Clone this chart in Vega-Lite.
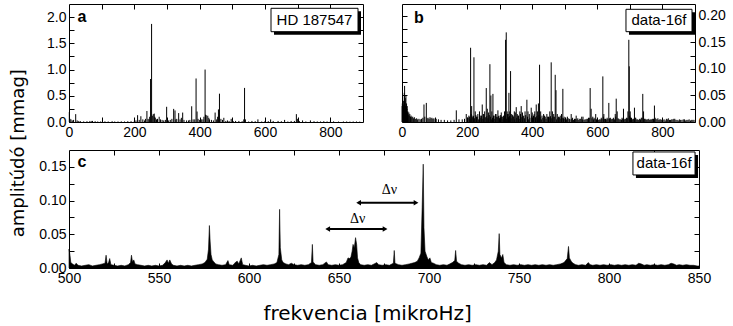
{
"$schema": "https://vega.github.io/schema/vega-lite/v6.json",
"padding": {"left": 9, "top": 3, "right": 2, "bottom": 2},
"background": "white",
"config": {
 "view": {"stroke": "black", "strokeWidth": 1},
 "axis": {"domain": false, "grid": false, "ticks": true, "tickSize": -5, "tickColor": "black", "tickWidth": 1, "labelFont": "Liberation Sans", "labelFontSize": 14, "labelColor": "black", "labelPadding": 8, "labelFlush": false, "labelOverlap": false},
 "title": {"color": "black", "font": "DejaVu Sans", "fontSize": 20, "fontWeight": "normal", "anchor": "middle"}
},
"datasets": {
 "a": [
  {"f":1,"a":0.19},{"f":3,"a":0.06},{"f":6,"a":0.05},{"f":10,"a":0.03},{"f":14,"a":0.04},{"f":20.5,"a":0.15},{"f":25,"a":0.03},{"f":35,"a":0.015},{"f":70,"a":0.02},{"f":72,"a":0.02},{"f":97,"a":0.01},{"f":150,"a":0.01},{"f":180,"a":0.015},{"f":210,"a":0.13},{"f":220,"a":0.11},{"f":231,"a":0.03},{"f":238.5,"a":0.21},{"f":245,"a":0.05},{"f":249.7,"a":0.82},{"f":252.8,"a":1.87},{"f":255,"a":0.12},{"f":258,"a":0.15},{"f":261,"a":0.16},{"f":264,"a":0.08},{"f":268,"a":0.05},{"f":276,"a":0.1},{"f":285,"a":0.04},{"f":298.9,"a":0.29},{"f":305,"a":0.03},{"f":320.4,"a":0.25},{"f":324.5,"a":0.22},{"f":330,"a":0.06},{"f":335.7,"a":0.17},{"f":348,"a":0.18},{"f":360,"a":0.03},{"f":375.6,"a":0.3},{"f":385,"a":0.05},{"f":389,"a":0.83},{"f":392,"a":0.2},{"f":400,"a":0.04},{"f":410,"a":0.05},{"f":416.6,"a":1.0},{"f":420,"a":0.13},{"f":424.8,"a":0.12},{"f":430,"a":0.05},{"f":447.3,"a":0.18},{"f":457.5,"a":0.24},{"f":460.6,"a":0.54},{"f":465,"a":0.06},{"f":474,"a":0.08},{"f":485,"a":0.03},{"f":496.4,"a":0.06},{"f":510,"a":0.02},{"f":537.4,"a":0.65},{"f":540,"a":0.05},{"f":560,"a":0.02},{"f":578.3,"a":0.05},{"f":600,"a":0.02},{"f":617.2,"a":0.05},{"f":640,"a":0.02},{"f":660,"a":0.04},{"f":680,"a":0.02},{"f":696,"a":0.15},{"f":699,"a":0.06},{"f":715,"a":0.03},{"f":739,"a":0.03},{"f":760,"a":0.01},{"f":780,"a":0.015},{"f":800,"a":0.01},{"f":840,"a":0.01},{"f":880,"a":0.01},
  {"f":30,"a":0.02},{"f":45,"a":0.012},{"f":55,"a":0.015},{"f":64,"a":0.02},{"f":80,"a":0.015},{"f":88,"a":0.01},{"f":110,"a":0.012},{"f":120,"a":0.01},{"f":132,"a":0.015},{"f":140,"a":0.01},{"f":160,"a":0.012},{"f":170,"a":0.01},{"f":190,"a":0.015},{"f":200,"a":0.02},{"f":205,"a":0.03},{"f":215,"a":0.04},{"f":226,"a":0.05},{"f":234,"a":0.06},{"f":242,"a":0.06},{"f":247,"a":0.1},{"f":262.5,"a":0.1},{"f":271,"a":0.06},{"f":280,"a":0.05},{"f":290,"a":0.03},{"f":295,"a":0.04},{"f":310,"a":0.04},{"f":315,"a":0.06},{"f":327,"a":0.05},{"f":340,"a":0.05},{"f":344,"a":0.08},{"f":352,"a":0.04},{"f":366,"a":0.03},{"f":370,"a":0.04},{"f":380,"a":0.05},{"f":395,"a":0.06},{"f":405,"a":0.05},{"f":413,"a":0.1},{"f":418,"a":0.14},{"f":428,"a":0.08},{"f":436,"a":0.04},{"f":442,"a":0.03},{"f":452,"a":0.05},{"f":455,"a":0.1},{"f":470,"a":0.04},{"f":480,"a":0.02},{"f":490,"a":0.02},{"f":503,"a":0.015},{"f":520,"a":0.02},{"f":530,"a":0.015},{"f":535,"a":0.05},{"f":550,"a":0.01},{"f":570,"a":0.015},{"f":590,"a":0.01},{"f":610,"a":0.015},{"f":625,"a":0.02},{"f":650,"a":0.015},{"f":670,"a":0.01},{"f":690,"a":0.02},{"f":705,"a":0.02},{"f":725,"a":0.01},{"f":750,"a":0.015},{"f":770,"a":0.01},{"f":790,"a":0.01},{"f":810,"a":0.012},{"f":825,"a":0.008},{"f":850,"a":0.01},{"f":860,"a":0.008},{"f":870,"a":0.01},{"f":890,"a":0.008}
 ],
 "b": [
  {"f":0.5,"a":0.03},{"f":1,"a":0.035},{"f":1.5,"a":0.025},{"f":2.5,"a":0.032},{"f":3,"a":0.03},{"f":4,"a":0.028},{"f":5,"a":0.04},{"f":6,"a":0.033},{"f":7,"a":0.055},{"f":8,"a":0.068},{"f":9,"a":0.04},{"f":10,"a":0.045},{"f":11,"a":0.03},{"f":12,"a":0.05},{"f":13,"a":0.028},{"f":14,"a":0.035},{"f":15,"a":0.022},{"f":16,"a":0.03},{"f":17,"a":0.018},{"f":18,"a":0.02},{"f":19,"a":0.014},{"f":21,"a":0.018},{"f":22,"a":0.012},{"f":24,"a":0.015},{"f":26,"a":0.01},{"f":28,"a":0.012},{"f":30,"a":0.009},{"f":33,"a":0.01},{"f":35,"a":0.007},{"f":38,"a":0.009},{"f":41,"a":0.006},{"f":45,"a":0.007},{"f":48,"a":0.005},{"f":52,"a":0.006},{"f":56,"a":0.005},{"f":60,"a":0.006},{"f":64,"a":0.008},{"f":67.5,"a":0.033},{"f":70,"a":0.01},{"f":74.7,"a":0.036},{"f":77,"a":0.007},{"f":80,"a":0.008},{"f":83,"a":0.006},{"f":86,"a":0.009},{"f":89,"a":0.007},{"f":92,"a":0.008},{"f":95,"a":0.006},{"f":98,"a":0.007},{"f":102,"a":0.005},{"f":105,"a":0.006},{"f":112,"a":0.005},{"f":120,"a":0.004},{"f":130,"a":0.004},{"f":140,"a":0.003},{"f":150,"a":0.003},{"f":160,"a":0.004},{"f":166.8,"a":0.022},{"f":175,"a":0.005},{"f":185,"a":0.005},{"f":192,"a":0.006},{"f":197.4,"a":0.015},{"f":203,"a":0.008},{"f":207,"a":0.01},{"f":210.7,"a":0.14},{"f":214,"a":0.03},{"f":218,"a":0.012},{"f":221,"a":0.122},{"f":225,"a":0.02},{"f":229,"a":0.01},{"f":233,"a":0.015},{"f":238,"a":0.02},{"f":242,"a":0.012},{"f":246.5,"a":0.033},{"f":250,"a":0.015},{"f":254,"a":0.02},{"f":258.8,"a":0.064},{"f":262,"a":0.025},{"f":266,"a":0.018},{"f":270,"a":0.109},{"f":273,"a":0.05},{"f":276,"a":0.02},{"f":279.3,"a":0.053},{"f":283,"a":0.012},{"f":287,"a":0.015},{"f":291,"a":0.01},{"f":294.6,"a":0.022},{"f":298,"a":0.012},{"f":301,"a":0.008},{"f":304.9,"a":0.018},{"f":308,"a":0.01},{"f":312,"a":0.012},{"f":315,"a":0.02},{"f":318.2,"a":0.155},{"f":320.2,"a":0.169},{"f":323,"a":0.02},{"f":326,"a":0.015},{"f":328.4,"a":0.055},{"f":331,"a":0.02},{"f":333.5,"a":0.096},{"f":337,"a":0.015},{"f":341,"a":0.012},{"f":345,"a":0.02},{"f":348,"a":0.018},{"f":350.9,"a":0.028},{"f":354,"a":0.015},{"f":358,"a":0.012},{"f":362,"a":0.02},{"f":366.2,"a":0.03},{"f":370,"a":0.018},{"f":374,"a":0.012},{"f":378,"a":0.02},{"f":383.6,"a":0.042},{"f":387,"a":0.02},{"f":391,"a":0.015},{"f":396.9,"a":0.027},{"f":400,"a":0.018},{"f":404,"a":0.012},{"f":408,"a":0.02},{"f":412.3,"a":0.033},{"f":416,"a":0.02},{"f":419,"a":0.035},{"f":422.5,"a":0.108},{"f":426,"a":0.02},{"f":430,"a":0.012},{"f":435,"a":0.015},{"f":440,"a":0.01},{"f":445,"a":0.015},{"f":450,"a":0.01},{"f":454,"a":0.02},{"f":458.3,"a":0.1125},{"f":462,"a":0.02},{"f":466,"a":0.015},{"f":470.6,"a":0.089},{"f":473,"a":0.06},{"f":477,"a":0.015},{"f":481,"a":0.01},{"f":486,"a":0.012},{"f":490,"a":0.015},{"f":494.1,"a":0.0625},{"f":498,"a":0.01},{"f":503,"a":0.008},{"f":508,"a":0.01},{"f":514,"a":0.006},{"f":519.7,"a":0.015},{"f":524,"a":0.008},{"f":530,"a":0.006},{"f":535,"a":0.012},{"f":540,"a":0.007},{"f":546,"a":0.006},{"f":552,"a":0.01},{"f":556,"a":0.01},{"f":562,"a":0.005},{"f":568,"a":0.006},{"f":573,"a":0.008},{"f":578,"a":0.064},{"f":581,"a":0.025},{"f":586,"a":0.01},{"f":590,"a":0.008},{"f":595,"a":0.015},{"f":600,"a":0.006},{"f":606,"a":0.005},{"f":612,"a":0.008},{"f":616.9,"a":0.086},{"f":620,"a":0.015},{"f":625,"a":0.006},{"f":630,"a":0.008},{"f":635.3,"a":0.036},{"f":640,"a":0.008},{"f":645,"a":0.006},{"f":650,"a":0.008},{"f":655,"a":0.015},{"f":658,"a":0.044},{"f":661,"a":0.02},{"f":666,"a":0.006},{"f":672,"a":0.005},{"f":676,"a":0.008},{"f":680.3,"a":0.025},{"f":685,"a":0.006},{"f":690,"a":0.008},{"f":694,"a":0.02},{"f":696.7,"a":0.155},{"f":698,"a":0.105},{"f":701,"a":0.02},{"f":705,"a":0.008},{"f":710,"a":0.006},{"f":714,"a":0.027},{"f":718,"a":0.008},{"f":724,"a":0.005},{"f":730,"a":0.006},{"f":735,"a":0.008},{"f":739.6,"a":0.053},{"f":742,"a":0.02},{"f":747,"a":0.006},{"f":752,"a":0.005},{"f":758,"a":0.006},{"f":764,"a":0.005},{"f":770,"a":0.006},{"f":775.4,"a":0.031},{"f":780,"a":0.006},{"f":786,"a":0.007},{"f":792,"a":0.005},{"f":798,"a":0.004},{"f":805,"a":0.005},{"f":812,"a":0.006},{"f":818,"a":0.007},{"f":825,"a":0.004},{"f":832,"a":0.005},{"f":838,"a":0.006},{"f":845,"a":0.004},{"f":852,"a":0.005},{"f":860,"a":0.004},{"f":868,"a":0.005},{"f":875,"a":0.004},{"f":882,"a":0.005},{"f":890,"a":0.004},{"f":897,"a":0.004},
  {"f":201,"a":0.008},{"f":205.5,"a":0.012},{"f":209,"a":0.006},{"f":212.5,"a":0.015},{"f":216,"a":0.009},{"f":219.5,"a":0.011},{"f":223,"a":0.007},{"f":227,"a":0.013},{"f":231,"a":0.01},{"f":235.5,"a":0.005},{"f":240,"a":0.008},{"f":244,"a":0.012},{"f":248.5,"a":0.006},{"f":252,"a":0.015},{"f":256,"a":0.009},{"f":260.5,"a":0.011},{"f":264,"a":0.007},{"f":268,"a":0.013},{"f":271.5,"a":0.01},{"f":274.5,"a":0.005},{"f":278,"a":0.008},{"f":281,"a":0.012},{"f":285,"a":0.006},{"f":289,"a":0.015},{"f":292.5,"a":0.009},{"f":296,"a":0.011},{"f":299.5,"a":0.007},{"f":303,"a":0.013},{"f":306.5,"a":0.01},{"f":310,"a":0.005},{"f":313.5,"a":0.008},{"f":317,"a":0.012},{"f":321.5,"a":0.006},{"f":324.5,"a":0.015},{"f":327,"a":0.009},{"f":330,"a":0.011},{"f":335,"a":0.007},{"f":339,"a":0.013},{"f":343,"a":0.01},{"f":346.5,"a":0.005},{"f":352.5,"a":0.008},{"f":356,"a":0.012},{"f":360,"a":0.006},{"f":364,"a":0.015},{"f":368,"a":0.009},{"f":372,"a":0.011},{"f":376,"a":0.007},{"f":380,"a":0.013},{"f":385.5,"a":0.01},{"f":389,"a":0.005},{"f":393,"a":0.008},{"f":398.5,"a":0.012},{"f":402,"a":0.006},{"f":406,"a":0.015},{"f":410,"a":0.009},{"f":414,"a":0.011},{"f":417.5,"a":0.007},{"f":420.5,"a":0.013},{"f":424,"a":0.01},{"f":428,"a":0.005},{"f":432.5,"a":0.008},{"f":437.5,"a":0.012},{"f":442.5,"a":0.006},{"f":447.5,"a":0.01},{"f":452,"a":0.009},{"f":456,"a":0.011},{"f":460,"a":0.007},{"f":464,"a":0.01},{"f":468,"a":0.01},{"f":475,"a":0.005},{"f":479,"a":0.008},{"f":483.5,"a":0.009},{"f":488,"a":0.006},{"f":492,"a":0.008},{"f":496,"a":0.007},{"f":500.5,"a":0.006},{"f":505.5,"a":0.005},{"f":510.5,"a":0.007},{"f":516,"a":0.005},{"f":521.5,"a":0.006},{"f":527,"a":0.004},{"f":532.5,"a":0.006},{"f":537.5,"a":0.005},{"f":543,"a":0.004},{"f":549,"a":0.006},{"f":554,"a":0.005},{"f":559,"a":0.004},{"f":565,"a":0.005},{"f":570.5,"a":0.006},{"f":575.5,"a":0.008},{"f":583.5,"a":0.007},{"f":588,"a":0.005},{"f":592.5,"a":0.006},{"f":597.5,"a":0.005},{"f":603,"a":0.004},{"f":609,"a":0.005},{"f":614,"a":0.006},{"f":618.5,"a":0.01},{"f":622.5,"a":0.006},{"f":627.5,"a":0.005},{"f":632.5,"a":0.006},{"f":637.5,"a":0.007},{"f":642.5,"a":0.005},{"f":647.5,"a":0.006},{"f":652.5,"a":0.005},{"f":656.5,"a":0.01},{"f":663.5,"a":0.007},{"f":669,"a":0.005},{"f":674,"a":0.004},{"f":678,"a":0.006},{"f":682.5,"a":0.005},{"f":687.5,"a":0.006},{"f":692,"a":0.007},{"f":699.5,"a":0.012},{"f":703,"a":0.007},{"f":707.5,"a":0.005},{"f":712,"a":0.006},{"f":716,"a":0.008},{"f":721,"a":0.005},{"f":727,"a":0.004},{"f":732.5,"a":0.005},{"f":737.5,"a":0.008},{"f":744.5,"a":0.006},{"f":749.5,"a":0.004},{"f":755,"a":0.005},{"f":761,"a":0.004},{"f":767,"a":0.005},{"f":772.5,"a":0.006},{"f":777.5,"a":0.008},{"f":783,"a":0.005},{"f":789,"a":0.004},{"f":795,"a":0.005},{"f":801.5,"a":0.004},{"f":808.5,"a":0.003},{"f":815,"a":0.005},{"f":821.5,"a":0.004},{"f":828.5,"a":0.005},{"f":835,"a":0.006},{"f":841.5,"a":0.004},{"f":848.5,"a":0.003},{"f":856,"a":0.004},{"f":864,"a":0.005},{"f":871.5,"a":0.003},{"f":878.5,"a":0.004},{"f":886,"a":0.003},{"f":893.5,"a":0.004}
 ],
 "c": [
  {"f":500,"a":0.028},{"f":500.5,"a":0.02},{"f":501,"a":0.008},{"f":502,"a":0.006},{"f":503,"a":0.004},{"f":504,"a":0.007},{"f":505,"a":0.004},{"f":507,"a":0.003},{"f":509,"a":0.004},{"f":511,"a":0.005},{"f":513,"a":0.003},{"f":515,"a":0.004},{"f":517,"a":0.005},{"f":518.5,"a":0.006},{"f":520,"a":0.007},{"f":520.6,"a":0.019},{"f":521.2,"a":0.006},{"f":522,"a":0.008},{"f":522.6,"a":0.014},{"f":523.3,"a":0.005},{"f":525,"a":0.004},{"f":527,"a":0.003},{"f":529,"a":0.004},{"f":531,"a":0.003},{"f":533,"a":0.005},{"f":534.2,"a":0.008},{"f":534.7,"a":0.019},{"f":535.3,"a":0.009},{"f":536,"a":0.012},{"f":536.7,"a":0.006},{"f":538,"a":0.005},{"f":540,"a":0.004},{"f":542,"a":0.003},{"f":544,"a":0.004},{"f":546,"a":0.003},{"f":548,"a":0.004},{"f":550,"a":0.003},{"f":552,"a":0.004},{"f":553.5,"a":0.008},{"f":554.5,"a":0.012},{"f":555.2,"a":0.007},{"f":556,"a":0.012},{"f":557,"a":0.006},{"f":558,"a":0.004},{"f":560,"a":0.003},{"f":562,"a":0.004},{"f":564,"a":0.003},{"f":566,"a":0.004},{"f":568,"a":0.003},{"f":570,"a":0.004},{"f":572,"a":0.005},{"f":574,"a":0.006},{"f":575.5,"a":0.008},{"f":576.8,"a":0.013},{"f":577.5,"a":0.028},{"f":578,"a":0.063},{"f":578.4,"a":0.04},{"f":578.9,"a":0.02},{"f":579.6,"a":0.012},{"f":580.5,"a":0.009},{"f":581.5,"a":0.006},{"f":583,"a":0.005},{"f":585,"a":0.004},{"f":587,"a":0.005},{"f":588.3,"a":0.011},{"f":589,"a":0.005},{"f":591,"a":0.004},{"f":592.7,"a":0.009},{"f":593.5,"a":0.01},{"f":594.3,"a":0.006},{"f":595.7,"a":0.015},{"f":596.5,"a":0.005},{"f":598,"a":0.004},{"f":600,"a":0.003},{"f":602,"a":0.004},{"f":604,"a":0.003},{"f":606,"a":0.004},{"f":608,"a":0.005},{"f":610,"a":0.004},{"f":612,"a":0.005},{"f":614,"a":0.006},{"f":615.5,"a":0.008},{"f":616.6,"a":0.02},{"f":617,"a":0.087},{"f":617.4,"a":0.03},{"f":618.2,"a":0.012},{"f":619,"a":0.008},{"f":620.5,"a":0.006},{"f":622,"a":0.005},{"f":623.5,"a":0.007},{"f":625,"a":0.005},{"f":627,"a":0.004},{"f":629,"a":0.005},{"f":631,"a":0.004},{"f":633,"a":0.005},{"f":634.7,"a":0.008},{"f":635.2,"a":0.035},{"f":635.6,"a":0.009},{"f":637,"a":0.005},{"f":639,"a":0.004},{"f":641,"a":0.005},{"f":643,"a":0.009},{"f":644,"a":0.005},{"f":646,"a":0.004},{"f":648,"a":0.005},{"f":650,"a":0.004},{"f":652,"a":0.005},{"f":654,"a":0.008},{"f":655,"a":0.015},{"f":655.8,"a":0.014},{"f":656.6,"a":0.016},{"f":657.3,"a":0.025},{"f":657.8,"a":0.035},{"f":658.5,"a":0.03},{"f":659.2,"a":0.045},{"f":659.8,"a":0.035},{"f":660.3,"a":0.015},{"f":661,"a":0.008},{"f":662,"a":0.005},{"f":664,"a":0.004},{"f":666,"a":0.005},{"f":668,"a":0.004},{"f":669.5,"a":0.006},{"f":671,"a":0.008},{"f":672,"a":0.005},{"f":674,"a":0.004},{"f":676,"a":0.005},{"f":678,"a":0.004},{"f":680.2,"a":0.007},{"f":680.7,"a":0.026},{"f":681.1,"a":0.007},{"f":683,"a":0.005},{"f":685,"a":0.004},{"f":687,"a":0.005},{"f":689,"a":0.006},{"f":690.5,"a":0.007},{"f":692,"a":0.008},{"f":693.5,"a":0.01},{"f":694.5,"a":0.015},{"f":695.5,"a":0.022},{"f":696.2,"a":0.09},{"f":696.8,"a":0.154},{"f":697.2,"a":0.06},{"f":697.8,"a":0.025},{"f":698.8,"a":0.017},{"f":699.6,"a":0.012},{"f":700.5,"a":0.015},{"f":701.3,"a":0.008},{"f":702.5,"a":0.007},{"f":704,"a":0.005},{"f":706,"a":0.004},{"f":708,"a":0.005},{"f":710,"a":0.004},{"f":711.5,"a":0.006},{"f":713,"a":0.008},{"f":714.3,"a":0.011},{"f":714.8,"a":0.026},{"f":715.3,"a":0.01},{"f":716.5,"a":0.007},{"f":718,"a":0.005},{"f":720,"a":0.004},{"f":722,"a":0.005},{"f":724,"a":0.004},{"f":726,"a":0.005},{"f":728,"a":0.004},{"f":730,"a":0.005},{"f":732,"a":0.004},{"f":733.5,"a":0.008},{"f":735,"a":0.005},{"f":736.5,"a":0.008},{"f":737.5,"a":0.012},{"f":738.5,"a":0.025},{"f":739,"a":0.051},{"f":739.4,"a":0.02},{"f":740.3,"a":0.015},{"f":741,"a":0.02},{"f":741.7,"a":0.008},{"f":743,"a":0.005},{"f":745,"a":0.004},{"f":747,"a":0.005},{"f":749,"a":0.004},{"f":751,"a":0.005},{"f":753,"a":0.004},{"f":755,"a":0.005},{"f":757,"a":0.004},{"f":759,"a":0.005},{"f":761,"a":0.004},{"f":763,"a":0.005},{"f":765,"a":0.004},{"f":767,"a":0.005},{"f":769,"a":0.004},{"f":771,"a":0.005},{"f":773,"a":0.006},{"f":775,"a":0.008},{"f":776.8,"a":0.014},{"f":777.5,"a":0.032},{"f":778,"a":0.015},{"f":779,"a":0.01},{"f":780,"a":0.007},{"f":781.5,"a":0.005},{"f":783,"a":0.004},{"f":785,"a":0.005},{"f":787,"a":0.004},{"f":788.5,"a":0.008},{"f":789.5,"a":0.005},{"f":791,"a":0.004},{"f":793,"a":0.005},{"f":795,"a":0.004},{"f":797,"a":0.005},{"f":799,"a":0.004},{"f":801,"a":0.005},{"f":803,"a":0.004},{"f":805,"a":0.005},{"f":807,"a":0.004},{"f":809,"a":0.005},{"f":811,"a":0.004},{"f":813,"a":0.005},{"f":815,"a":0.004},{"f":816.5,"a":0.007},{"f":818,"a":0.006},{"f":819.5,"a":0.004},{"f":821,"a":0.005},{"f":823,"a":0.004},{"f":825,"a":0.005},{"f":827,"a":0.004},{"f":829,"a":0.005},{"f":831,"a":0.004},{"f":833,"a":0.005},{"f":834.5,"a":0.007},{"f":836,"a":0.006},{"f":837.5,"a":0.004},{"f":839,"a":0.005},{"f":841,"a":0.004},{"f":843,"a":0.005},{"f":845,"a":0.004},{"f":847,"a":0.004},{"f":849,"a":0.003},{"f":850,"a":0.003}
 ]
},
"title": {"text": "frekvencia [mikroHz]", "orient": "bottom", "offset": 18},
"vconcat": [{
 "title": {"text": "amplitúdó [mmag]", "orient": "left", "offset": 5, "dx": -9, "fontSize": 18},
 "spacing": 9,
 "vconcat": [
  {"spacing": 33, "hconcat": [
   {"width": 294, "height": 118,
    "resolve": {"axis": {"x": "independent", "y": "independent"}},
    "layer": [
     {"data": {"name": "a"}, "mark": {"type": "rule", "color": "black", "strokeWidth": 1},
      "encoding": {
       "x": {"field": "f", "type": "quantitative", "scale": {"domain": [0, 900], "nice": false, "zero": false}, "axis": {"orient": "bottom", "title": null, "values": [0,100,200,300,400,500,600,700,800], "labelExpr": "datum.value % 200 == 0 ? datum.label : ''"}},
       "y": {"field": "a", "type": "quantitative", "scale": {"domain": [0, 2.25], "nice": false}, "axis": {"orient": "left", "title": null, "minExtent": 36, "maxExtent": 36, "values": [0,0.25,0.5,0.75,1,1.25,1.5,1.75,2], "format": ".1f", "labelExpr": "datum.value % 0.5 == 0 ? datum.label : ''"}},
       "y2": {"datum": 0}}},
     {"data": {"values": [{}]}, "mark": {"type": "rect", "color": "black", "xOffset": 3, "x2Offset": 3, "yOffset": 3, "y2Offset": 3},
      "encoding": {
       "x": {"datum": 618.4, "type": "quantitative", "axis": {"orient": "top", "title": null, "labels": false, "values": [100,200,300,400,500,600,700,800]}},
       "x2": {"datum": 884.7},
       "y": {"datum": 2.168, "type": "quantitative", "axis": {"orient": "right", "title": null, "labels": false, "values": [0.25,0.5,0.75,1,1.25,1.5,1.75,2]}},
       "y2": {"datum": 1.722}}},
     {"data": {"values": [{}]}, "mark": {"type": "rect", "fill": "white", "stroke": "black", "strokeWidth": 1},
      "encoding": {"x": {"datum": 618.4, "type": "quantitative", "axis": null}, "x2": {"datum": 884.7}, "y": {"datum": 2.168, "type": "quantitative", "axis": null}, "y2": {"datum": 1.722}}},
     {"data": {"values": [{}]}, "mark": {"type": "text", "font": "Liberation Sans", "fontSize": 15, "color": "black", "baseline": "middle"},
      "encoding": {"x": {"datum": 751.5, "type": "quantitative", "axis": null}, "y": {"datum": 1.945, "type": "quantitative", "axis": null}, "text": {"value": "HD 187547"}}},
     {"data": {"values": [{}]}, "mark": {"type": "text", "font": "Liberation Sans", "fontSize": 16, "fontWeight": "bold", "color": "black", "baseline": "middle"},
      "encoding": {"x": {"datum": 39.8, "type": "quantitative", "axis": null}, "y": {"datum": 2.0, "type": "quantitative", "axis": null}, "text": {"value": "a"}}}
    ]},
   {"width": 293, "height": 118,
    "resolve": {"axis": {"x": "independent", "y": "independent"}},
    "layer": [
     {"data": {"name": "b"}, "mark": {"type": "rule", "color": "black", "strokeWidth": 1},
      "encoding": {
       "x": {"field": "f", "type": "quantitative", "scale": {"domain": [0, 900], "nice": false, "zero": false}, "axis": {"orient": "bottom", "title": null, "values": [0,100,200,300,400,500,600,700,800], "labelExpr": "datum.value % 200 == 0 ? datum.label : ''"}},
       "y": {"field": "a", "type": "quantitative", "scale": {"domain": [0, 0.2225], "nice": false}, "axis": {"orient": "right", "title": null, "values": [0,0.025,0.05,0.075,0.1,0.125,0.15,0.175,0.2], "format": ".2f", "labelExpr": "abs(datum.value*20 - round(datum.value*20)) < 0.001 ? format(datum.value, '.2f') : ''"}},
       "y2": {"datum": 0}}},
     {"data": {"values": [{}]}, "mark": {"type": "rect", "color": "black", "xOffset": 3, "x2Offset": 3, "yOffset": 3, "y2Offset": 3},
      "encoding": {
       "x": {"datum": 688, "type": "quantitative", "axis": {"orient": "top", "title": null, "labels": false, "values": [100,200,300,400,500,600,700,800]}},
       "x2": {"datum": 890.8},
       "y": {"datum": 0.2125, "type": "quantitative", "axis": {"orient": "left", "title": null, "labels": false, "values": [0.025,0.05,0.075,0.1,0.125,0.15,0.175,0.2]}},
       "y2": {"datum": 0.1703}}},
     {"data": {"values": [{}]}, "mark": {"type": "rect", "fill": "white", "stroke": "black", "strokeWidth": 1},
      "encoding": {"x": {"datum": 688, "type": "quantitative", "axis": null}, "x2": {"datum": 890.8}, "y": {"datum": 0.2125, "type": "quantitative", "axis": null}, "y2": {"datum": 0.1703}}},
     {"data": {"values": [{}]}, "mark": {"type": "text", "font": "Liberation Sans", "fontSize": 15, "color": "black", "baseline": "middle"},
      "encoding": {"x": {"datum": 789.4, "type": "quantitative", "axis": null}, "y": {"datum": 0.1914, "type": "quantitative", "axis": null}, "text": {"value": "data-16f"}}},
     {"data": {"values": [{}]}, "mark": {"type": "text", "font": "Liberation Sans", "fontSize": 16, "fontWeight": "bold", "color": "black", "baseline": "middle"},
      "encoding": {"x": {"datum": 52.2, "type": "quantitative", "axis": null}, "y": {"datum": 0.196, "type": "quantitative", "axis": null}, "text": {"value": "b"}}}
    ]}
  ]},
  {"width": 630, "height": 118,
   "resolve": {"axis": {"x": "independent", "y": "independent"}},
   "layer": [
    {"data": {"name": "c"}, "mark": {"type": "area", "color": "black", "stroke": "black", "strokeWidth": 0.6, "interpolate": "linear"},
     "encoding": {
      "x": {"field": "f", "type": "quantitative", "scale": {"domain": [500, 850], "nice": false, "zero": false}, "axis": {"orient": "bottom", "title": null, "values": [500,525,550,575,600,625,650,675,700,725,750,775,800,825,850], "labelExpr": "datum.value % 50 == 0 ? datum.label : ''"}},
      "y": {"field": "a", "type": "quantitative", "scale": {"domain": [0, 0.175], "nice": false}, "axis": {"orient": "left", "title": null, "minExtent": 36, "maxExtent": 36, "values": [0,0.025,0.05,0.075,0.1,0.125,0.15], "format": ".2f", "labelExpr": "abs(datum.value*20 - round(datum.value*20)) < 0.001 ? format(datum.value, '.2f') : ''"}}}},
    {"data": {"values": [{}]}, "mark": {"type": "rect", "color": "black", "xOffset": 3, "x2Offset": 3, "yOffset": 3, "y2Offset": 3},
     "encoding": {
      "x": {"datum": 813.3, "type": "quantitative", "axis": {"orient": "top", "title": null, "labels": false, "values": [525,550,575,600,625,650,675,700,725,750,775,800,825]}},
      "x2": {"datum": 847.8},
      "y": {"datum": 0.1721, "type": "quantitative", "axis": {"orient": "right", "title": null, "labels": false, "values": [0.025,0.05,0.075,0.1,0.125,0.15]}},
      "y2": {"datum": 0.138}}},
    {"data": {"values": [{}]}, "mark": {"type": "rect", "fill": "white", "stroke": "black", "strokeWidth": 1},
     "encoding": {"x": {"datum": 813.3, "type": "quantitative", "axis": null}, "x2": {"datum": 847.8}, "y": {"datum": 0.1721, "type": "quantitative", "axis": null}, "y2": {"datum": 0.138}}},
    {"data": {"values": [{}]}, "mark": {"type": "text", "font": "Liberation Sans", "fontSize": 15, "color": "black", "baseline": "middle"},
     "encoding": {"x": {"datum": 830.6, "type": "quantitative", "axis": null}, "y": {"datum": 0.155, "type": "quantitative", "axis": null}, "text": {"value": "data-16f"}}},
    {"data": {"values": [{}]}, "mark": {"type": "text", "font": "Liberation Sans", "fontSize": 16, "fontWeight": "bold", "color": "black", "baseline": "middle"},
     "encoding": {"x": {"datum": 507.2, "type": "quantitative", "axis": null}, "y": {"datum": 0.157, "type": "quantitative", "axis": null}, "text": {"value": "c"}}},
    {"data": {"values": [{}]}, "mark": {"type": "rule", "color": "black", "strokeWidth": 2},
     "encoding": {"x": {"datum": 660.9, "type": "quantitative", "axis": null}, "x2": {"datum": 692.8}, "y": {"datum": 0.0969, "type": "quantitative", "axis": null}}},
    {"data": {"values": [{}]}, "mark": {"type": "rule", "color": "black", "strokeWidth": 2},
     "encoding": {"x": {"datum": 643.7, "type": "quantitative", "axis": null}, "x2": {"datum": 675.6}, "y": {"datum": 0.0579, "type": "quantitative", "axis": null}}},
    {"data": {"values": [{}]}, "mark": {"type": "point", "shape": "triangle-left", "filled": true, "color": "black", "size": 30, "opacity": 1},
     "encoding": {"x": {"datum": 660.9, "type": "quantitative", "axis": null}, "y": {"datum": 0.0969, "type": "quantitative", "axis": null}}},
    {"data": {"values": [{}]}, "mark": {"type": "point", "shape": "triangle-right", "filled": true, "color": "black", "size": 30, "opacity": 1},
     "encoding": {"x": {"datum": 692.8, "type": "quantitative", "axis": null}, "y": {"datum": 0.0969, "type": "quantitative", "axis": null}}},
    {"data": {"values": [{}]}, "mark": {"type": "point", "shape": "triangle-left", "filled": true, "color": "black", "size": 30, "opacity": 1},
     "encoding": {"x": {"datum": 643.7, "type": "quantitative", "axis": null}, "y": {"datum": 0.0579, "type": "quantitative", "axis": null}}},
    {"data": {"values": [{}]}, "mark": {"type": "point", "shape": "triangle-right", "filled": true, "color": "black", "size": 30, "opacity": 1},
     "encoding": {"x": {"datum": 675.6, "type": "quantitative", "axis": null}, "y": {"datum": 0.0579, "type": "quantitative", "axis": null}}},
    {"data": {"values": [{}]}, "mark": {"type": "text", "font": "Liberation Serif", "fontSize": 14, "color": "black", "baseline": "middle"},
     "encoding": {"x": {"datum": 678, "type": "quantitative", "axis": null}, "y": {"datum": 0.1157, "type": "quantitative", "axis": null}, "text": {"value": "Δν"}}},
    {"data": {"values": [{}]}, "mark": {"type": "text", "font": "Liberation Serif", "fontSize": 14, "color": "black", "baseline": "middle"},
     "encoding": {"x": {"datum": 660.4, "type": "quantitative", "axis": null}, "y": {"datum": 0.0727, "type": "quantitative", "axis": null}, "text": {"value": "Δν"}}}
   ]}
 ]
}]
}
